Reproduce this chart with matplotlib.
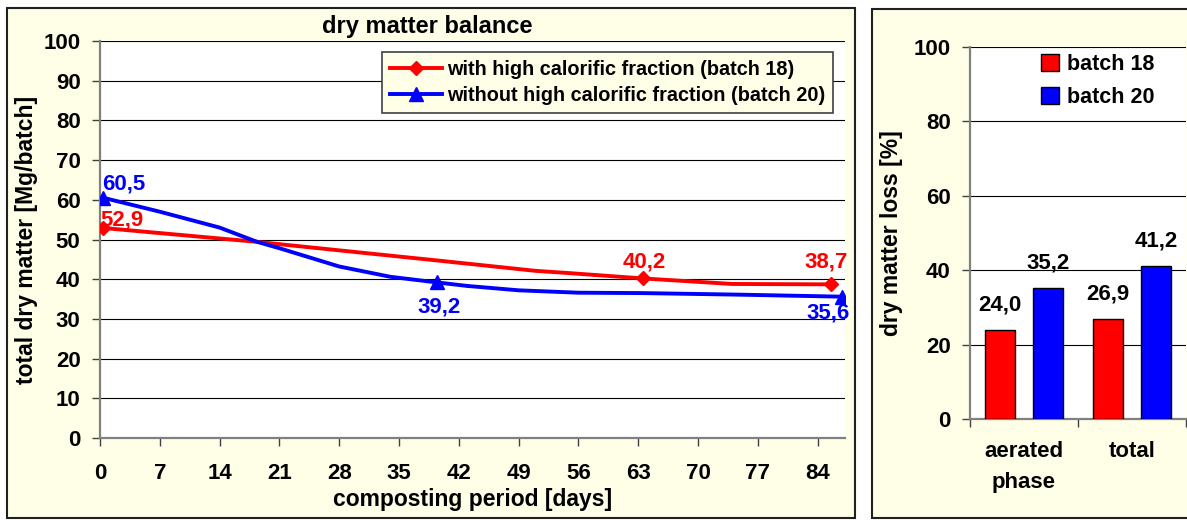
import matplotlib
matplotlib.use("Agg")
import matplotlib.pyplot as plt
from matplotlib.patches import Rectangle

plt.rcParams['font.family'] = ['Liberation Sans', 'DejaVu Sans']
plt.rcParams['font.weight'] = 'bold'

# ---- data: dry matter balance (left) ----
days_b18 = [0.4, 18.4, 40.0, 51.0, 54.5, 63.5, 74.0, 85.6]
dm_b18 = [52.9, 49.4, 44.6, 42.1, 41.6, 40.2, 38.8, 38.7]
marks_b18 = [0, 5, 7]

days_b20 = [0.4, 7.0, 14.0, 18.4, 21.0, 28.0, 34.0, 39.4, 43.0, 49.0, 56.0, 63.5, 75.0, 86.8]
dm_b20 = [60.5, 57.0, 53.0, 49.4, 47.8, 43.2, 40.6, 39.2, 38.3, 37.2, 36.6, 36.5, 36.1, 35.6]
marks_b20 = [0, 7, 13]

day_ticks = list(range(0, 85, 7))
dm_ticks = list(range(0, 101, 10))

# ---- data: dry matter loss (right) ----
phases = ['aerated\nphase', 'total']
loss_b18 = [24.0, 26.9]
loss_b20 = [35.2, 41.2]
loss_ticks = list(range(0, 101, 20))

RED = '#FF0000'
BLUE = '#0000FF'
PANEL = '#FFFFE8'
W, H = 1187, 520
TICK_FS = 16
LABEL_FS = 16.5


def fmt(v):
    return f"{v:.1f}".replace('.', ',')


def fx(px):
    return px / W


def fy(py):
    return 1 - py / H


fig = plt.figure(figsize=(W / 100, H / 100), dpi=100)
fig.patch.set_facecolor('white')

# panel backgrounds (behind the axes)
fig.patches.append(Rectangle((fx(7), fy(518)), fx(848), 510 / H, transform=fig.transFigure,
                             facecolor=PANEL, edgecolor='#202020', linewidth=1.5, zorder=-10))
fig.patches.append(Rectangle((fx(872), fy(518)), 0.4, 509 / H, transform=fig.transFigure,
                             facecolor=PANEL, edgecolor='#202020', linewidth=1.5, zorder=-10))


def style_axes(ax):
    ax.set_facecolor('white')
    for s in ['top', 'right']:
        ax.spines[s].set_visible(False)
    for s in ['left', 'bottom']:
        ax.spines[s].set_color('#808080')
        ax.spines[s].set_linewidth(1.6)
    ax.yaxis.grid(True, color='black', linewidth=0.8)
    ax.set_axisbelow(True)
    ax.tick_params(axis='both', direction='out', length=6, width=1, color='#404040',
                   labelsize=TICK_FS, pad=8)


# ---- left: line chart ----
ax1 = fig.add_axes([fx(100), fy(438), fx(745), 397 / H])
style_axes(ax1)
ax1.plot(days_b18, dm_b18, color=RED, lw=2.8, marker='D', ms=7.5, markevery=marks_b18,
         label='with high calorific fraction (batch 18)', zorder=3)
ax1.plot(days_b20, dm_b20, color=BLUE, lw=2.8, marker='^', ms=9.5, markevery=marks_b20,
         label='without high calorific fraction (batch 20)', zorder=3)
ax1.set_xlim(0, 87.2)
ax1.set_ylim(0, 100)
ax1.set_xticks(day_ticks)
ax1.set_yticks(dm_ticks)
ax1.tick_params(axis='x', pad=12)
ax1.set_xlabel('composting period [days]', fontsize=LABEL_FS, fontweight='bold')
ax1.xaxis.set_label_coords(0.5, -0.126)
ax1.set_ylabel('total dry matter [Mg/batch]', fontsize=LABEL_FS, fontweight='bold')
ax1.yaxis.set_label_coords(-0.083, 0.5)
ax1.set_title('dry matter balance', fontsize=17, fontweight='bold', x=0.439, y=1.02, pad=0)

label_spec_b18 = {0: ((-2, 6), 'left'), 5: ((1, 12), 'center'), 7: ((-4, 16), 'center')}
label_spec_b20 = {0: ((-1, 10), 'left'), 7: ((2, -18), 'center'), 13: ((-10, -12), 'center')}
for i, (off, ha) in label_spec_b18.items():
    ax1.annotate(fmt(dm_b18[i]), (days_b18[i], dm_b18[i]), xytext=off, textcoords='offset points',
                 ha=ha, va='center', color=RED, fontsize=16, fontweight='bold', annotation_clip=False)
for i, (off, ha) in label_spec_b20.items():
    ax1.annotate(fmt(dm_b20[i]), (days_b20[i], dm_b20[i]), xytext=off, textcoords='offset points',
                 ha=ha, va='center', color=BLUE, fontsize=16, fontweight='bold', annotation_clip=False)

leg1 = ax1.legend(loc='upper right', bbox_to_anchor=(fx(833), fy(52)), bbox_transform=fig.transFigure,
                  fontsize=14.3, frameon=True, fancybox=False, facecolor=PANEL, edgecolor='#404040',
                  framealpha=1, handlelength=2.6, borderpad=0.4, labelspacing=0.35,
                  handletextpad=0.25, borderaxespad=0)
leg1.get_frame().set_linewidth(1.2)

# ---- right: bar chart ----
ax2 = fig.add_axes([fx(970), fy(419), fx(216), 372 / H])
style_axes(ax2)
pos = list(range(len(phases)))
ax2.bar([p - 0.222 for p in pos], loss_b18, width=0.278, color=RED, edgecolor='black',
        linewidth=1, label='batch 18', zorder=3)
ax2.bar([p + 0.222 for p in pos], loss_b20, width=0.278, color=BLUE, edgecolor='black',
        linewidth=1, label='batch 20', zorder=3)
for p, v in zip(pos, loss_b18):
    ax2.annotate(fmt(v), (p - 0.222, v), xytext=(0, 18), textcoords='offset points',
                 ha='center', va='center', fontsize=16, fontweight='bold')
for p, v in zip(pos, loss_b20):
    ax2.annotate(fmt(v), (p + 0.222, v), xytext=(0, 18), textcoords='offset points',
                 ha='center', va='center', fontsize=16, fontweight='bold')
ax2.set_xlim(-0.5, 1.5)
ax2.set_ylim(0, 100)
ax2.set_yticks(loss_ticks)
ax2.set_xticks(pos)
ax2.set_xticklabels(phases, fontsize=16, linespacing=1.6)
ax2.tick_params(axis='x', which='major', length=0, pad=16)
ax2.set_xticks([-0.5, 0.5, 1.5], minor=True)
ax2.tick_params(axis='x', which='minor', direction='out', length=6, width=1, color='#404040')
ax2.set_ylabel('dry matter loss [%]', fontsize=LABEL_FS, fontweight='bold')
ax2.yaxis.set_label_coords(-0.31, 0.5)
ax2.legend(loc='upper center', bbox_to_anchor=(fx(1098), fy(54)), bbox_transform=fig.transFigure,
           fontsize=15.5, frameon=False, handlelength=0.8, handleheight=0.8, handletextpad=0.4,
           labelspacing=0.55, borderaxespad=0, borderpad=0)

fig.savefig('out.png', dpi=100, facecolor=fig.get_facecolor())
